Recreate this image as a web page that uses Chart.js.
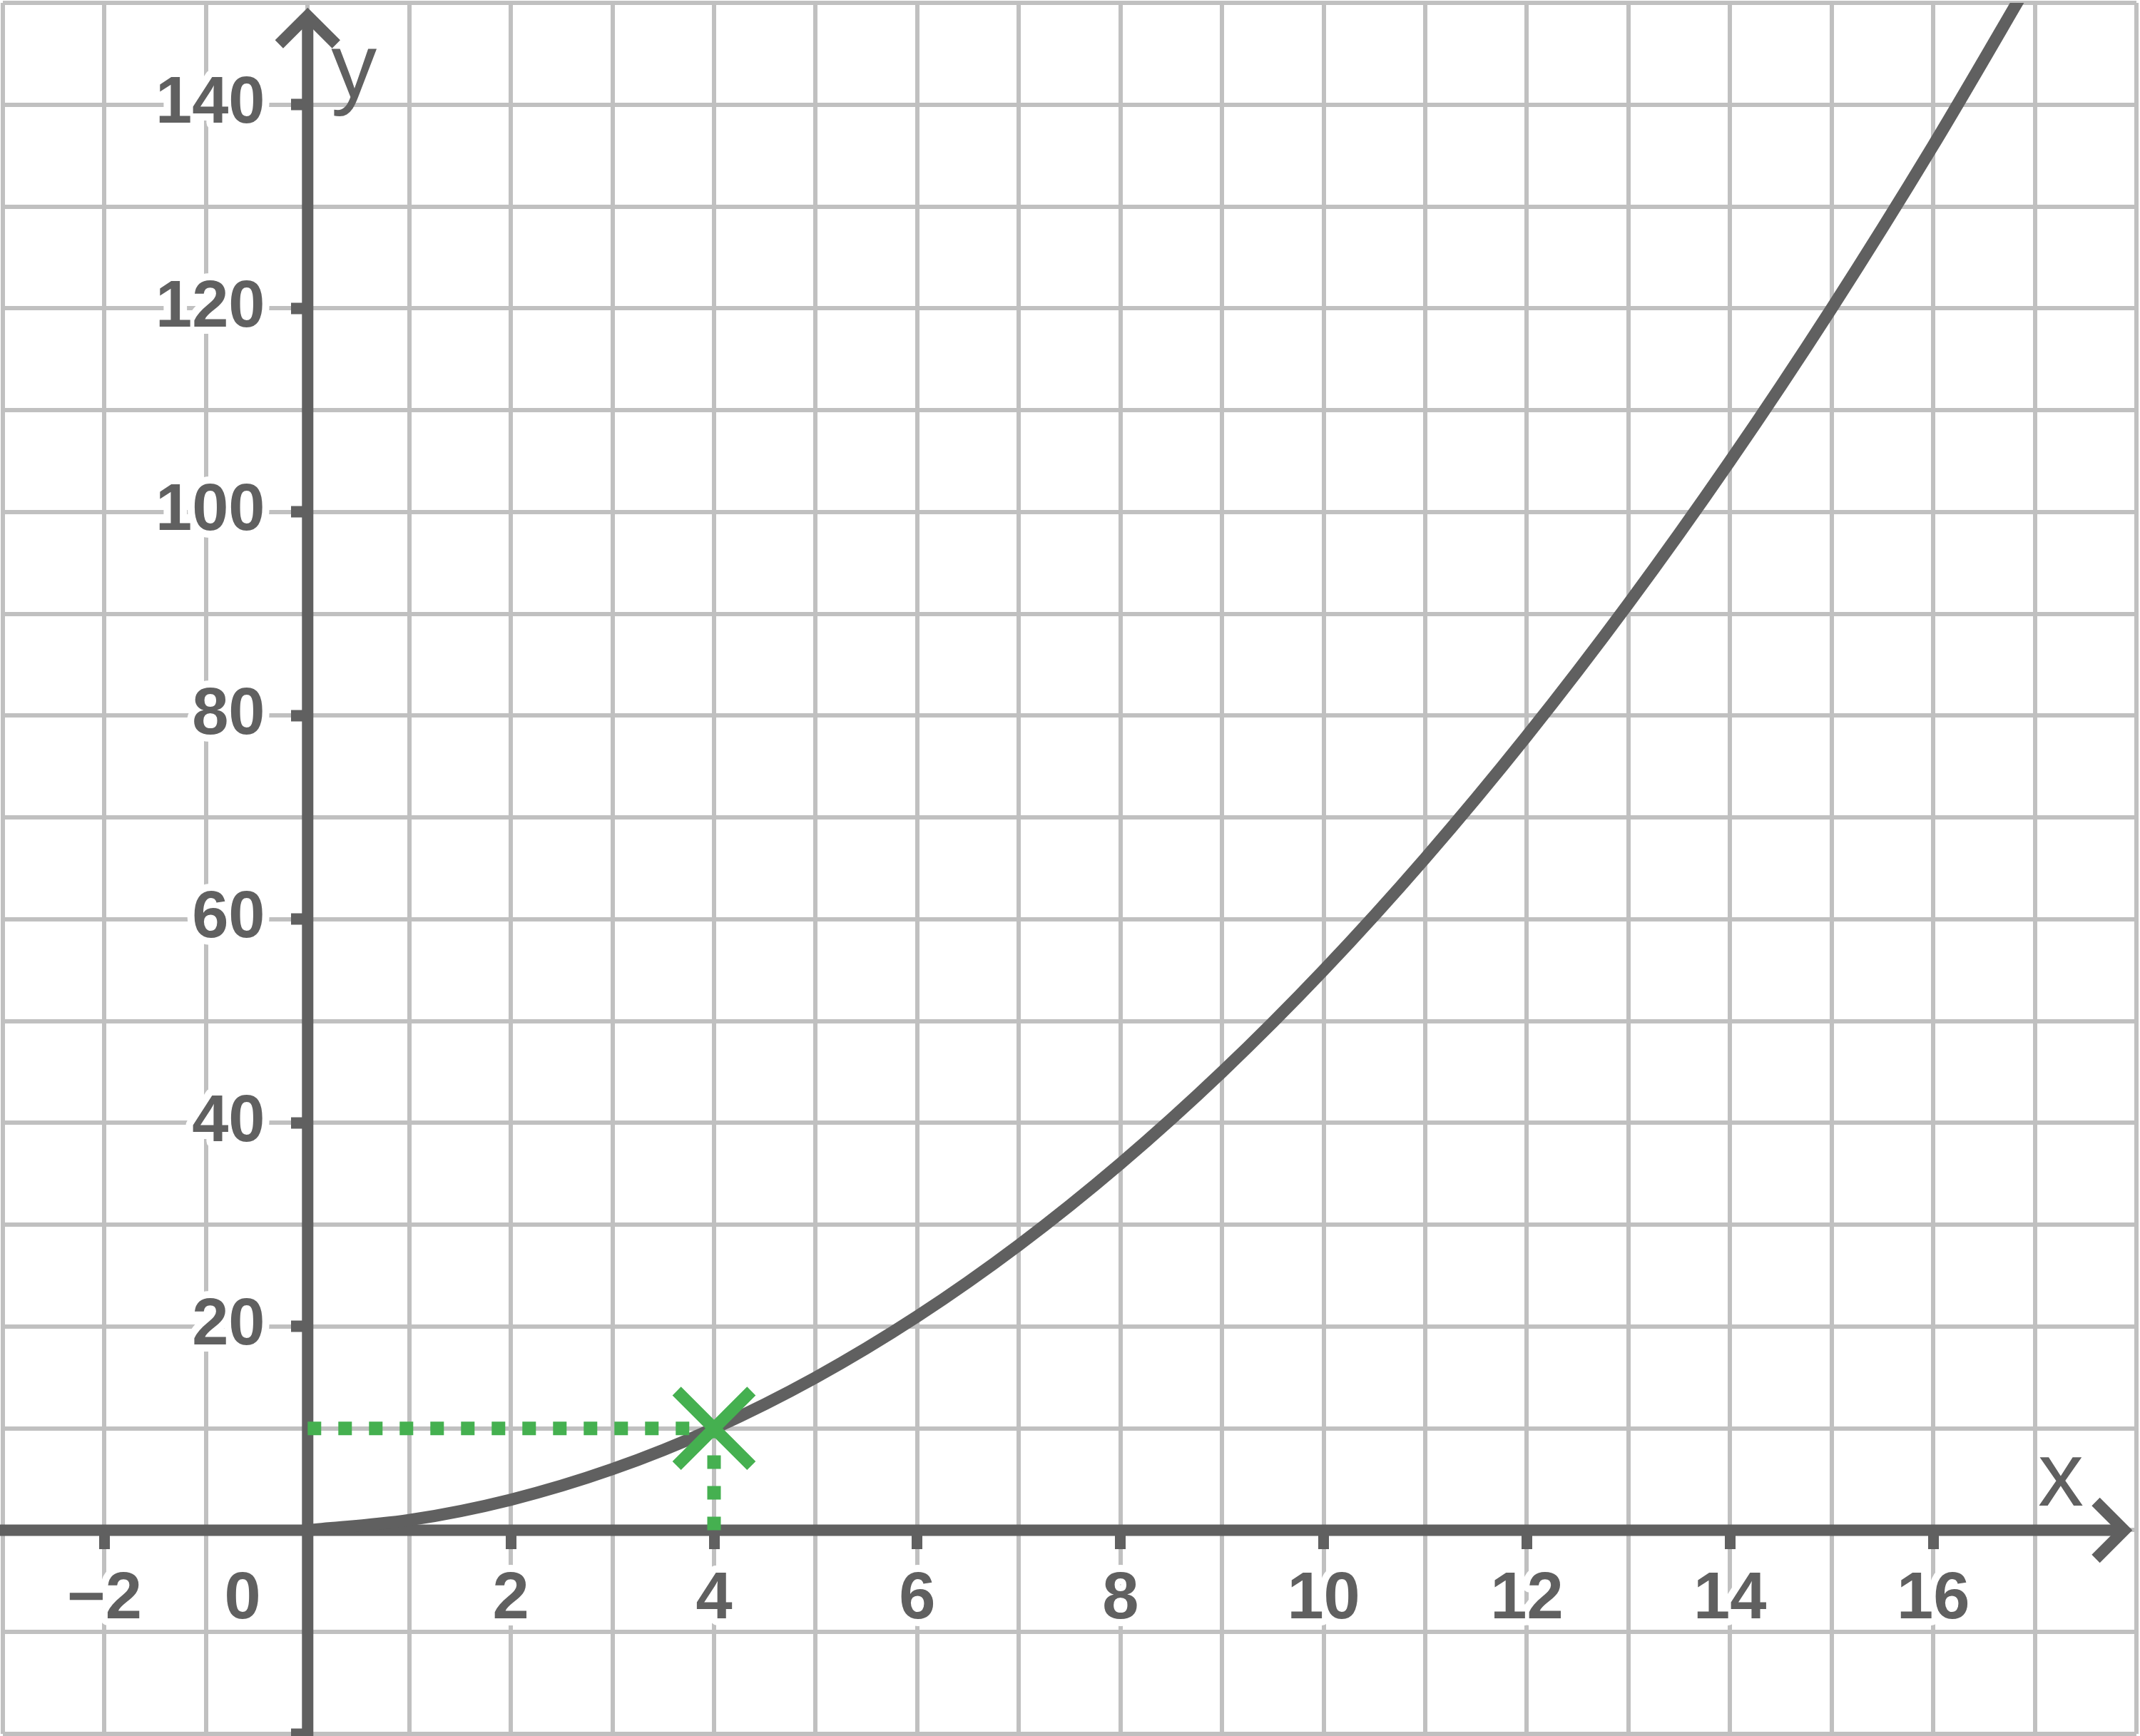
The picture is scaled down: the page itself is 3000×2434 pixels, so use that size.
<!DOCTYPE html>
<html>
<head>
<meta charset="utf-8">
<title>graph</title>
<script src="https://cdn.jsdelivr.net/npm/chart.js@4.4.1/dist/chart.umd.min.js"></script>
<style>
  html, body { margin: 0; padding: 0; background: #fff; }
  #wrap { position: relative; width: 3000px; height: 2434px; }
</style>
</head>
<body>
<div id="wrap"><canvas id="graph"></canvas></div>
<script>
  // curve at every whole x
  const curveX = [0, 1, 2, 3, 4, 5, 6, 7, 8, 9, 10, 11, 12, 13, 14, 15, 16, 17];
  const curveY = [0, 1, 3, 6, 10, 15, 21, 28, 36, 45, 55, 66, 78, 91, 105, 120, 136, 153];

  // marked point and its guide lines
  const markX = 4;
  const markY = 10;

  // visible window
  const xMin = -3, xMax = 18;
  const yMin = -20, yMax = 150;

  // tick labels on the axes ("0" sits left of the y axis)
  const xTickValues = [-2, -0.64, 2, 4, 6, 8, 10, 12, 14, 16];
  const xTickLabels = ['\u22122', '0', '2', '4', '6', '8', '10', '12', '14', '16'];
  const xMarkValues = [-2, 2, 4, 6, 8, 10, 12, 14, 16];
  const yTickValues = [20, 40, 60, 80, 100, 120, 140];
  const yTickLabels = ['20', '40', '60', '80', '100', '120', '140'];
  const yMarkValues = [-20, 20, 40, 60, 80, 100, 120, 140];
  const yLabelEdge = -0.42;   // right edge of the y labels, in x units

  const dark = '#606060';
  const green = '#45b050';
  const gridGrey = '#c0c0c0';
  const labelFont = { family: '"Liberation Sans", Arial, sans-serif', size: 92, weight: 'bold' };

  const axesPlugin = {
    id: 'axes',
    beforeDraw(chart) {
      // rounded halo behind the tick labels
      chart.ctx.lineJoin = 'round';
    },
    beforeDatasetsDraw(chart) {
      const { ctx, chartArea, scales } = chart;
      const ox = scales.x.getPixelForValue(0);
      const oy = scales.y.getPixelForValue(0);
      const tipX = chartArea.right - 17;
      const tipY = chartArea.top + 18;
      const arm = 40;

      ctx.save();
      ctx.strokeStyle = dark;
      ctx.lineWidth = 16;
      ctx.lineJoin = 'miter';
      ctx.lineCap = 'butt';

      // x axis with arrow
      ctx.beginPath();
      ctx.moveTo(0, oy);
      ctx.lineTo(tipX, oy);
      ctx.stroke();
      ctx.beginPath();
      ctx.moveTo(tipX - arm, oy - arm);
      ctx.lineTo(tipX, oy);
      ctx.lineTo(tipX - arm, oy + arm);
      ctx.stroke();

      // y axis with arrow
      ctx.beginPath();
      ctx.moveTo(ox, chart.height);
      ctx.lineTo(ox, tipY);
      ctx.stroke();
      ctx.beginPath();
      ctx.moveTo(ox - arm, tipY + arm);
      ctx.lineTo(ox, tipY);
      ctx.lineTo(ox + arm, tipY + arm);
      ctx.stroke();

      // axis names
      ctx.fillStyle = dark;
      ctx.font = '128px "Liberation Sans", Arial, sans-serif';
      ctx.textAlign = 'center';
      ctx.textBaseline = 'alphabetic';
      ctx.fillText('x', tipX - 89, oy - 34);
      ctx.fillText('y', ox + 65, tipY + 114);
      ctx.restore();
    }
  };

  function labelFor(values, labels) {
    return function(value) {
      const i = values.findIndex(v => Math.abs(v - value) < 1e-6);
      return i < 0 ? '' : labels[i];
    };
  }

  // scales placed on the axes must not eat layout room
  function noRoom(s) {
    s.paddingLeft = s.paddingRight = s.paddingTop = s.paddingBottom = 0;
    if (s.isHorizontal()) s.height = 0; else s.width = 0;
  }

  const labelTicks = {
    autoSkip: false,
    maxRotation: 0,
    color: dark,
    font: labelFont,
    textStrokeColor: '#fff',
    textStrokeWidth: 20
  };

  new Chart(document.getElementById('graph'), {
    type: 'scatter',
    data: {
      datasets: [
        {
          label: 'point',
          data: [{ x: markX, y: markY }],
          pointStyle: 'crossRot',
          pointRadius: 74,
          pointBorderWidth: 17,
          pointBorderColor: green,
          pointBackgroundColor: green,
          showLine: false
        },
        {
          label: 'to y',
          data: [{ x: 0, y: markY }, { x: markX, y: markY }],
          showLine: true,
          borderColor: green,
          borderWidth: 19,
          borderDash: [19, 24],
          borderCapStyle: 'butt',
          pointRadius: 0
        },
        {
          label: 'to x',
          data: [{ x: markX, y: 0 }, { x: markX, y: markY }],
          showLine: true,
          borderColor: green,
          borderWidth: 19,
          borderDash: [19, 24],
          borderCapStyle: 'butt',
          pointRadius: 0
        },
        {
          label: 'curve',
          data: curveX.map((x, i) => ({ x: x, y: curveY[i] })),
          showLine: true,
          borderColor: dark,
          borderWidth: 17,
          cubicInterpolationMode: 'monotone',
          pointRadius: 0
        }
      ]
    },
    options: {
      responsive: true,
      maintainAspectRatio: false,
      devicePixelRatio: 1,
      animation: false,
      events: [],
      layout: { autoPadding: false, padding: { left: 4, right: 5, top: 4, bottom: 3 } },
      plugins: {
        legend: { display: false },
        tooltip: { enabled: false }
      },
      scales: {
        x: {
          type: 'linear',
          min: xMin,
          max: xMax,
          ticks: { display: false, stepSize: 1 },
          grid: { color: gridGrey, lineWidth: 6, drawTicks: false },
          border: { display: false }
        },
        y: {
          type: 'linear',
          min: yMin,
          max: yMax,
          ticks: { display: false, stepSize: 10 },
          grid: { color: gridGrey, lineWidth: 6, drawTicks: false },
          border: { display: false }
        },
        // x labels under the axis
        xl: {
          type: 'linear',
          axis: 'x',
          position: { y: 0 },
          min: xMin,
          max: xMax,
          afterBuildTicks: s => { s.ticks = xTickValues.map(v => ({ value: v })); },
          afterFit: noRoom,
          ticks: Object.assign({}, labelTicks, {
            padding: 35,
            callback: labelFor(xTickValues, xTickLabels)
          }),
          grid: { display: false },
          border: { display: false }
        },
        // tick marks on the x axis
        xm: {
          type: 'linear',
          axis: 'x',
          position: { y: 0 },
          min: xMin,
          max: xMax,
          afterBuildTicks: s => { s.ticks = xMarkValues.map(v => ({ value: v })); },
          afterFit: noRoom,
          ticks: { display: false, autoSkip: false },
          grid: {
            drawOnChartArea: false,
            drawTicks: true,
            tickLength: 27,
            tickWidth: 15,
            tickColor: dark
          },
          border: { display: false }
        },
        // y labels left of the axis
        yl: {
          type: 'linear',
          axis: 'y',
          position: { x: yLabelEdge },
          min: yMin,
          max: yMax,
          afterBuildTicks: s => { s.ticks = yTickValues.map(v => ({ value: v })); },
          afterFit: noRoom,
          ticks: Object.assign({}, labelTicks, {
            padding: 0,
            callback: labelFor(yTickValues, yTickLabels)
          }),
          grid: { display: false },
          border: { display: false }
        },
        // tick marks on the y axis
        ym: {
          type: 'linear',
          axis: 'y',
          position: { x: 0 },
          min: yMin,
          max: yMax,
          afterBuildTicks: s => { s.ticks = yMarkValues.map(v => ({ value: v })); },
          afterFit: noRoom,
          ticks: { display: false, autoSkip: false },
          grid: {
            drawOnChartArea: false,
            drawTicks: true,
            tickLength: 23,
            tickWidth: 16,
            tickColor: dark
          },
          border: { display: false }
        }
      }
    },
    plugins: [axesPlugin]
  });
</script>
</body>
</html>
